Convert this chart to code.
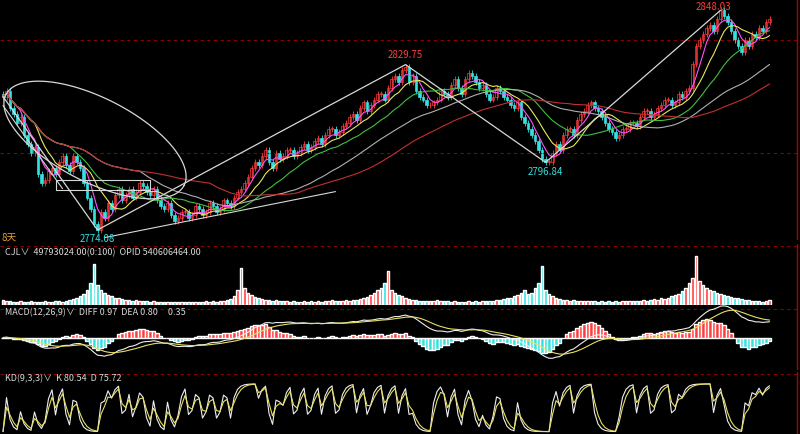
import numpy as np, pandas as pd, seaborn as sns, matplotlib
matplotlib.use("Agg")
import matplotlib.pyplot as plt

sns.set_style("dark")
plt.rcParams['font.family'] = ['Noto Sans CJK SC', 'DejaVu Sans']

closes = [2819,2821,2815,2813,2810,2812,2806,2803,2800,2802,2793,2790,
          2791,2794,2795,2793,2797,2799,2796,2794,2799,2797,
          2795,2790,2785,2781,2776,2774,2780,2778,
          2783,2781,2786,2788,2784,2786,2788,2785,2787,2790,2789,2787,
          2786,2788,2784,2782,2781,2783,2779,2777,2778,2780,2780,2778,
          2779,2782,2781,2779,2780,2783,2782,2780,2781,2784,2783,2782,2785,2787,
          2788,2790,2792,2795,2797,2796,2799,2801,2797,2795,2800,2798,2799,2801,
          2801,2799,2800,2802,2803,2801,2802,2804,2805,2803,2806,2808,2808,2806,2807,2809,
          2810,2812,2813,2811,2815,2817,2814,2816,2818,2820,2820,2818,2822,2825,2826,2824,
          2828,2829,2824,2826,2821,2819,2818,2816,2816,2817,
          2818,2821,2820,2819,2823,2825,2822,2820,2825,2827,2826,2824,
          2822,2823,2820,2818,2819,2822,2821,2819,2818,2816,2815,2817,
          2812,2810,2808,2806,2804,2801,2798,2797,2797,2800,
          2803,2801,2806,2808,2808,2806,2811,2813,2814,2816,2817,2815,2814,2812,
          2810,2808,2807,2805,2806,2808,2808,2810,2810,2809,2812,2814,
          2814,2812,2813,2815,2816,2818,2818,2816,2817,2820,2819,2821,
          2822,2830,2836,2838,2840,2842,2843,2841,2845,2848,2846,2844,
          2841,2838,2836,2834,2838,2836,2840,2839,2842,2841,2844,2845]
volume = [.10,.08,.09,.07,.06,.08,.07,.06,.08,.07,.06,.07,.08,.06,.07,.09,.08,.07,.09,.10,
          .12,.14,.18,.22,.30,.45,.85,.40,.30,.25,.20,.18,.15,.14,.12,.10,.11,.09,.10,.08,
          .09,.08,.07,.08,.07,.06,.07,.06,.07,.06,.07,.06,.06,.07,.06,.07,.06,.07,.08,.07,
          .08,.07,.09,.08,.10,.12,.18,.30,.75,.35,.25,.20,.16,.14,.12,.11,.10,.09,.10,.08,
          .09,.08,.07,.08,.07,.06,.08,.07,.08,.07,.08,.07,.09,.08,.10,.09,.08,.09,.10,.09,
          .10,.11,.12,.14,.16,.20,.25,.30,.35,.45,.70,.30,.25,.20,.18,.14,.12,.11,.10,.09,
          .08,.09,.08,.09,.10,.08,.09,.08,.07,.08,.07,.06,.07,.08,.07,.08,.07,.08,.09,.08,
          .09,.10,.11,.12,.14,.15,.18,.20,.25,.30,.22,.25,.35,.45,.80,.30,.22,.18,.14,.12,
          .11,.10,.09,.10,.09,.08,.09,.08,.09,.08,.07,.08,.07,.08,.07,.08,.07,.08,.09,.08,
          .08,.09,.08,.10,.09,.10,.12,.11,.14,.13,.15,.18,.20,.22,.28,.35,.45,.55,1.0,.50,
          .40,.35,.30,.28,.25,.22,.20,.18,.16,.15,.14,.12,.11,.10,.09,.08,.09,.07,.08,.10]
pivot_idx = [0, 27, 115, 155, 205]
pivot_val = [2819, 2774.08, 2829.75, 2796.84, 2848.03]
pivot_lbl = ["", "2774.08", "2829.75", "2796.84", "2848.03"]

n = len(closes)
df = pd.DataFrame({"i": np.arange(n), "c": closes, "v": volume})
df["o"] = df["c"].shift(1).fillna(df["c"].iloc[0] + 1)
df["up"] = df["c"] >= df["o"]

W, H = 800, 434
fig = plt.figure(figsize=(8, 4.34), dpi=100, facecolor="black")
XL = (-0.86, 227.7)
def ax_at(top, bot):
    a = fig.add_axes([0, 1 - bot/H, 1, (bot - top)/H])
    a.set_facecolor("black"); a.set_xlim(*XL)
    a.set_xticks([]); a.set_yticks([]); a.grid(False)
    for s in a.spines.values(): s.set_visible(False)
    a.axvline(226.9, color="#b00000", lw=1)
    return a

RED, CYAN, WH = "#ff3c3c", "#35e0e0", "#d8d8d8"
ax = ax_at(0, 240)
ax.set_ylim(2770.7, 2851.5)
for y in [2838, 2800]:
    ax.axhline(y, color="#8b0000", ls=(0, (3, 3)), lw=0.8)
for r in df.itertuples():
    col = RED if r.up else CYAN
    lo, hi = min(r.o, r.c), max(r.o, r.c)
    ax.vlines(r.i, lo - 1.0, hi + 1.0, color=col, lw=0.6)
    ax.bar(r.i, max(hi - lo, 0.3), bottom=lo, width=0.6,
           color="black" if r.up else col, edgecolor=col, lw=0.5)
for w, c in [(5, "#ff50ff"), (10, "#e8e860"), (20, "#40c040"), (40, "#b0b0b0"), (60, "#c03030")]:
    sns.lineplot(x=df.i, y=df.c.rolling(w, min_periods=1).mean(), ax=ax, color=c, lw=0.8)
sns.lineplot(x=pivot_idx, y=pivot_val, ax=ax, color=WH, lw=0.9)
ax.plot([0, 17], [2816, 2788], color=WH, lw=0.8)
ax.plot([29, 95], [2771.5, 2787], color=WH, lw=0.8)
ax.plot([15, 42, 42, 15, 15], [2790.9, 2790.9, 2787.5, 2787.5, 2790.9], color=WH, lw=0.8)
fig.canvas.draw()
t = np.linspace(0, 2*np.pi, 200); ang = np.deg2rad(-27)
ex = 100*np.cos(t); ey = 42*np.sin(t)
px = 95 + ex*np.cos(ang) - ey*np.sin(ang)
py = (H - 140) + ex*np.sin(ang) + ey*np.cos(ang)
dd = ax.transData.inverted().transform(np.column_stack([px, py]))
ax.plot(dd[:, 0], dd[:, 1], color=WH, lw=0.9)
for i, v, tx in zip(pivot_idx, pivot_val, pivot_lbl):
    if not tx: continue
    if v > 2840:
        ax.text(i - 2, 2849.3, tx, color=RED, fontsize=7, ha="center", va="center")
    elif v > 2820:
        ax.text(i, v + 1.5, tx, color=RED, fontsize=7, ha="center", va="bottom")
    else:
        ax.text(i, v - 1.5, tx, color=CYAN, fontsize=7, ha="center", va="top")
ax.set_xlabel(""); ax.set_ylabel("")
fig.text(0.002, 1 - 238/H, "8天", color="#e0a030", fontsize=7, va="center")

av = ax_at(244, 305)
av.set_ylim(0, 1.25)
av.axhline(1.2, color="#8b0000", ls=(0, (3, 3)), lw=0.8)
av.bar(df.i, df.v, width=0.7, color=[RED if u else CYAN for u in df.up])
av.text(0.5, 1.08, "CJL∨  49793024.00(0:100)  OPID 540606464.00", color=WH, fontsize=6.5, va="center")

am = ax_at(305, 370)
e12 = df.c.ewm(span=12).mean(); e26 = df.c.ewm(span=26).mean()
diff = e12 - e26; dea = diff.ewm(span=9).mean(); hist = 2 * (diff - dea)
am.set_ylim(-9, 9)
am.axhline(7.8, color="#8b0000", ls=(0, (3, 3)), lw=0.8)
am.bar(df.i, hist, width=1.0, color=[RED if h > 0 else CYAN for h in hist])
sns.lineplot(x=df.i, y=diff, ax=am, color="#eeeeee", lw=0.8)
sns.lineplot(x=df.i, y=dea, ax=am, color="#e8e060", lw=0.8)
am.set_xlabel(""); am.set_ylabel("")
am.text(0.5, 6.8, "MACD(12,26,9)∨  DIFF 0.97  DEA 0.80     0.35", color=WH, fontsize=6.5, va="center")

ak = ax_at(372, 434)
low_n = df.c.rolling(3, min_periods=1).min(); high_n = df.c.rolling(3, min_periods=1).max()
rsv = ((df.c - low_n) / (high_n - low_n).replace(0, 1) * 100)
K = rsv.ewm(alpha=0.6).mean(); D = K.ewm(alpha=0.6).mean()
ak.set_ylim(-5, 125)
ak.axhline(120, color="#8b0000", ls=(0, (3, 3)), lw=0.8)
sns.lineplot(x=df.i, y=K, ax=ak, color="#eeeeee", lw=0.8)
sns.lineplot(x=df.i, y=D, ax=ak, color="#e8e060", lw=0.8)
ak.set_xlabel(""); ak.set_ylabel("")
ak.text(0.5, 110, "KD(9,3,3)∨  K 80.54  D 75.72", color=WH, fontsize=6.5, va="center")

fig.savefig("out.png", dpi=100, facecolor="black")
